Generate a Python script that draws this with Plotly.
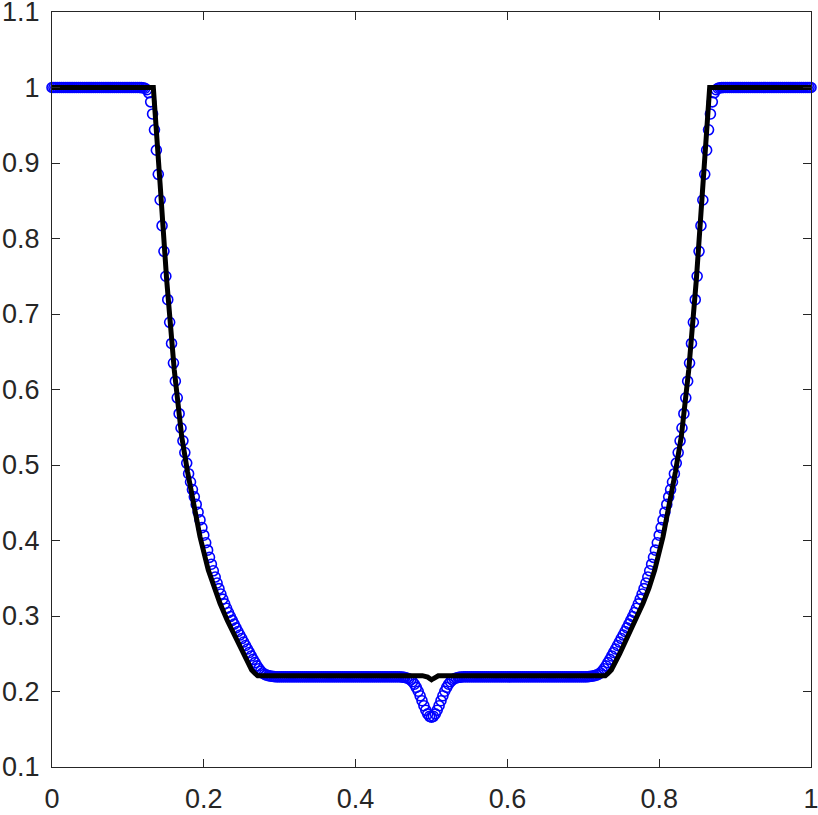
import numpy as np
import plotly.graph_objects as go

# ---------------- data ----------------
# numerical solution: 401 grid nodes on [0, 1]
X_GRID = np.linspace(0.0, 1.0, 401)

LEFT_STATE = [
    1, 1, 1, 1, 1, 1, 1, 1, 1, 1,
    1, 1, 1, 1, 1, 1, 1, 1, 1, 1,
    1, 1, 1, 1, 1, 1, 1, 1, 1, 1,
    1, 1, 1, 1, 1, 1, 1, 1, 1, 1,
    1, 1, 1, 1, 1, 1, 1]

LEFT_FAN = [
    0.9999, 0.9997, 0.999, 0.997, 0.993, 0.981, 0.965, 0.944, 0.917, 0.885,
    0.851, 0.817, 0.783, 0.750, 0.719, 0.689, 0.661, 0.635, 0.611, 0.589,
    0.568, 0.549, 0.532, 0.5165, 0.5025, 0.4885, 0.4775, 0.4675, 0.4578, 0.4478,
    0.4375, 0.4273, 0.4171, 0.4070, 0.3970, 0.3872, 0.3777, 0.3686, 0.3599, 0.3516,
    0.3437, 0.3362, 0.3291, 0.3224, 0.3161, 0.3102, 0.3046, 0.2993, 0.2942, 0.2892,
    0.2843, 0.2795, 0.2748, 0.2701, 0.2655, 0.2609, 0.2563, 0.2517, 0.2471, 0.2426,
    0.2382, 0.2340, 0.2302, 0.2270, 0.2246, 0.2229, 0.2218, 0.2210, 0.2205, 0.2201,
    0.2198]

STAR_LEFT = [
    0.2195, 0.2195, 0.2195, 0.2195, 0.2195, 0.2195, 0.2195, 0.2195, 0.2195, 0.2195, 0.2195,
    0.2195, 0.2195, 0.2195, 0.2195, 0.2195, 0.2195, 0.2195, 0.2195, 0.2195, 0.2195, 0.2195,
    0.2195, 0.2195, 0.2195, 0.2195, 0.2195, 0.2195, 0.2195, 0.2195, 0.2195, 0.2195, 0.2195,
    0.2195, 0.2195, 0.2195, 0.2195, 0.2195, 0.2195, 0.2195, 0.2195, 0.2195, 0.2195, 0.2195,
    0.2195, 0.2195, 0.2195, 0.2195, 0.2195, 0.2195, 0.2195, 0.2195, 0.2195, 0.2195, 0.2195,
    0.2195, 0.2195, 0.2195, 0.2195, 0.2195, 0.2195, 0.2195, 0.2195, 0.2195, 0.2195, 0.2195]

CENTER_DIP = [
    0.2193, 0.2190, 0.2186, 0.2179, 0.2169, 0.2152, 0.2129, 0.2096,
    0.2054, 0.2003, 0.1943, 0.1878, 0.1812, 0.1752, 0.1703, 0.1671,
    0.1660,
    0.1671, 0.1703, 0.1752, 0.1812, 0.1878, 0.1943, 0.2003, 0.2054,
    0.2096, 0.2129, 0.2152, 0.2169, 0.2179, 0.2186, 0.2190, 0.2193]

STAR_RIGHT = [
    0.2195, 0.2195, 0.2195, 0.2195, 0.2195, 0.2195, 0.2195, 0.2195, 0.2195, 0.2195, 0.2195,
    0.2195, 0.2195, 0.2195, 0.2195, 0.2195, 0.2195, 0.2195, 0.2195, 0.2195, 0.2195, 0.2195,
    0.2195, 0.2195, 0.2195, 0.2195, 0.2195, 0.2195, 0.2195, 0.2195, 0.2195, 0.2195, 0.2195,
    0.2195, 0.2195, 0.2195, 0.2195, 0.2195, 0.2195, 0.2195, 0.2195, 0.2195, 0.2195, 0.2195,
    0.2195, 0.2195, 0.2195, 0.2195, 0.2195, 0.2195, 0.2195, 0.2195, 0.2195, 0.2195, 0.2195,
    0.2195, 0.2195, 0.2195, 0.2195, 0.2195, 0.2195, 0.2195, 0.2195, 0.2195, 0.2195, 0.2195]

RIGHT_FAN = [
    0.2198, 0.2201, 0.2205, 0.2210, 0.2218, 0.2229, 0.2246, 0.2270, 0.2302, 0.2340,
    0.2382, 0.2426, 0.2471, 0.2517, 0.2563, 0.2609, 0.2655, 0.2701, 0.2748, 0.2795,
    0.2843, 0.2892, 0.2942, 0.2993, 0.3046, 0.3102, 0.3161, 0.3224, 0.3291, 0.3362,
    0.3437, 0.3516, 0.3599, 0.3686, 0.3777, 0.3872, 0.3970, 0.4070, 0.4171, 0.4273,
    0.4375, 0.4478, 0.4578, 0.4675, 0.4775, 0.4885, 0.5025, 0.5165, 0.532, 0.549,
    0.568, 0.589, 0.611, 0.635, 0.661, 0.689, 0.719, 0.750, 0.783, 0.817,
    0.851, 0.885, 0.917, 0.944, 0.965, 0.981, 0.993, 0.997, 0.999, 0.9997,
    0.9999]

RIGHT_STATE = [
    1, 1, 1, 1, 1, 1, 1, 1, 1, 1,
    1, 1, 1, 1, 1, 1, 1, 1, 1, 1,
    1, 1, 1, 1, 1, 1, 1, 1, 1, 1,
    1, 1, 1, 1, 1, 1, 1, 1, 1, 1,
    1, 1, 1, 1, 1, 1, 1]

RHO_NUM = LEFT_STATE + LEFT_FAN + STAR_LEFT + CENTER_DIP + STAR_RIGHT + RIGHT_FAN + RIGHT_STATE
assert len(RHO_NUM) == len(X_GRID), len(RHO_NUM)

# reference (exact) solution, black line
X_EXACT = [0.0, 0.1335, 0.1423, 0.1511, 0.1611, 0.1660, 0.1709, 0.1785, 0.1862, 0.1950,
           0.2059, 0.2135, 0.2213, 0.2310, 0.2411, 0.2520, 0.2631, 0.2675, 0.2710,
           0.4880, 0.4910, 0.4950, 0.4985, 0.5000, 0.5015, 0.5050, 0.5090, 0.5120,
           0.7290, 0.7325, 0.7369, 0.7480, 0.7589, 0.7690, 0.7787, 0.7865, 0.7941,
           0.8050, 0.8138, 0.8215, 0.8291, 0.8340, 0.8389, 0.8489, 0.8577, 0.8665, 1.0]
RHO_EXACT = [1.0, 1.0, 0.874, 0.745, 0.6258, 0.581, 0.5375, 0.4915, 0.4493, 0.405,
             0.3609, 0.337, 0.3168, 0.294, 0.2726, 0.250, 0.2285, 0.2238, 0.221,
             0.221, 0.2208, 0.219, 0.2165, 0.2155, 0.2165, 0.219, 0.2208, 0.221,
             0.221, 0.2238, 0.2285, 0.250, 0.2726, 0.294, 0.3168, 0.337, 0.3609,
             0.405, 0.4493, 0.4915, 0.5375, 0.581, 0.6258, 0.745, 0.874, 1.0, 1.0]

X_TICKS = [0, 0.2, 0.4, 0.6, 0.8, 1]
X_TICK_TEXT = ["0", "0.2", "0.4", "0.6", "0.8", "1"]
Y_TICKS = [0.1, 0.2, 0.3, 0.4, 0.5, 0.6, 0.7, 0.8, 0.9, 1.0, 1.1]
Y_TICK_TEXT = ["0.1", "0.2", "0.3", "0.4", "0.5", "0.6", "0.7", "0.8", "0.9", "1", "1.1"]

# ---------------- figure ----------------
AXIS_COLOR = "#262626"
FONT = dict(family="Liberation Sans, Arial, sans-serif", size=27, color=AXIS_COLOR)

fig = go.Figure()
fig.add_trace(go.Scatter(
    x=X_GRID, y=RHO_NUM, mode="markers", cliponaxis=False,
    marker=dict(symbol="circle-open", size=10, color="#0000ff",
                line=dict(width=1.6, color="#0000ff")),
))
fig.add_trace(go.Scatter(
    x=X_EXACT, y=RHO_EXACT, mode="lines",
    line=dict(color="#000000", width=5),
))

axis_common = dict(
    showline=True, linecolor=AXIS_COLOR, linewidth=1, mirror="ticks",
    ticks="inside", ticklen=8, tickwidth=1, tickcolor=AXIS_COLOR,
    showgrid=False, zeroline=False, tickfont=FONT,
    automargin=False, ticklabeloverflow="allow",
)
fig.update_layout(
    width=818, height=815,
    margin=dict(l=52, r=7, t=12, b=48, pad=0),
    paper_bgcolor="white", plot_bgcolor="white",
    showlegend=False,
    xaxis=dict(range=[0, 1], tickvals=X_TICKS, ticktext=X_TICK_TEXT,
               ticklabelstandoff=8, **axis_common),
    yaxis=dict(range=[0.1, 1.1], tickvals=Y_TICKS, ticktext=Y_TICK_TEXT,
               ticklabelstandoff=6, **axis_common),
)

fig.write_html(
    "out.html",
    config={"displayModeBar": False},
    post_script="document.body.style.margin='0';document.body.style.overflow='hidden';",
)
